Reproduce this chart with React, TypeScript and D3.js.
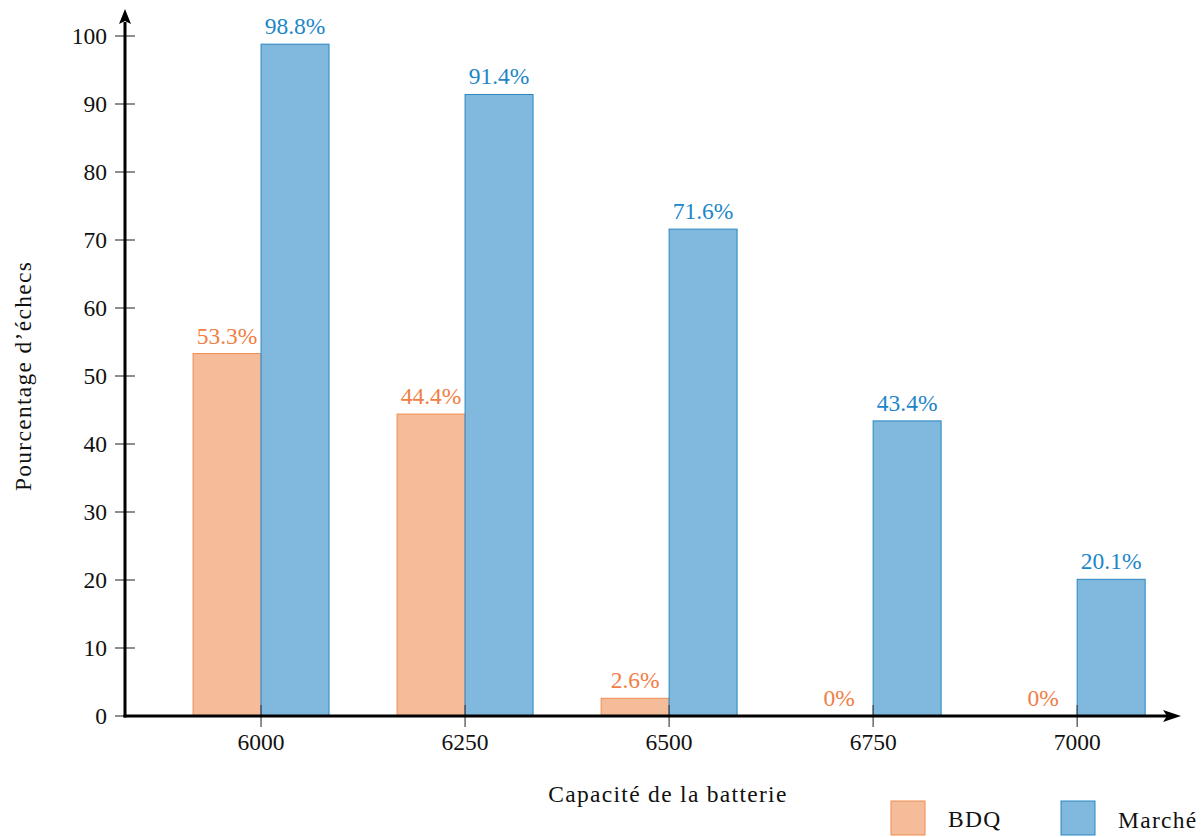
import React from "react";
import * as d3 from "d3";

const categories = [6000, 6250, 6500, 6750, 7000];
const bdq = [53.3, 44.4, 2.6, 0, 0];
const marche = [98.8, 91.4, 71.6, 43.4, 20.1];
const yTicks = [0, 10, 20, 30, 40, 50, 60, 70, 80, 90, 100];
const seriesNames = ["BDQ", "Marché"];

const W = 1203, H = 837;
const FONT = "Liberation Serif, Times New Roman, DejaVu Serif, serif";
const FS = 23.5;
const orangeFill = "#F5BC99", orangeStroke = "#F08C50", orangeText = "#F07E45";
const blueFill = "#80B9DD", blueStroke = "#2A86C3", blueText = "#1C86C8";

export default function App() {
  const x = d3.scaleLinear().domain([5833.3, 7126]).range([125, 1180]);
  const y = d3.scaleLinear().domain([0, 100]).range([716, 36]);
  const bw = x(6000) - x(5916.7);
  const fmt = (v: number) => `${v}%`;
  const ts = { fontFamily: FONT };
  const ws = { fontFamily: FONT, letterSpacing: "1.3px" };
  return (
    <svg width={W} height={H} style={{ position: "absolute", left: 0, top: 0, background: "#fff", fontFamily: FONT }}>
      {categories.map((c, i) => (
        <g key={c}>
          {bdq[i] > 0 && (
            <rect x={x(c) - bw} y={y(bdq[i])} width={bw} height={y(0) - y(bdq[i])} fill={orangeFill} stroke={orangeStroke} strokeWidth={1} />
          )}
          <rect x={x(c)} y={y(marche[i])} width={bw} height={y(0) - y(marche[i])} fill={blueFill} stroke={blueStroke} strokeWidth={1} />
          <text style={ts} x={x(c) - bw / 2} y={y(bdq[i]) - 10} textAnchor="middle" fontSize={FS} fill={orangeText}>{fmt(bdq[i])}</text>
          <text style={ts} x={x(c) + bw / 2} y={y(marche[i]) - 10} textAnchor="middle" fontSize={FS} fill={blueText}>{fmt(marche[i])}</text>
        </g>
      ))}
      {yTicks.map((t) => (
        <g key={t}>
          <line x1={115} x2={135} y1={y(t)} y2={y(t)} stroke="#444" strokeWidth={1.2} />
          <text style={ts} x={107} y={y(t) + 8} textAnchor="end" fontSize={FS} fill="#111">{t}</text>
        </g>
      ))}
      {categories.map((c) => (
        <g key={"t" + c}>
          <line x1={x(c)} x2={x(c)} y1={705} y2={727} stroke="#444" strokeWidth={1.2} />
          <text style={ts} x={x(c)} y={750} textAnchor="middle" fontSize={FS} fill="#111">{c}</text>
        </g>
      ))}
      <line x1={125} x2={125} y1={717.5} y2={22} stroke="#000" strokeWidth={3} />
      <path d="M125,9 L131,24 L125,21 L119,24 Z" fill="#000" />
      <line x1={123.5} x2={1168} y1={716} y2={716} stroke="#000" strokeWidth={3} />
      <path d="M1181,716 L1163,722 L1167,716 L1163,710 Z" fill="#000" />
      <text style={ws} x={668} y={802} textAnchor="middle" fontSize={FS} fill="#111">Capacité de la batterie</text>
      <text style={ws} transform={`translate(31,376) rotate(-90)`} textAnchor="middle" fontSize={FS} fill="#111">Pourcentage d’échecs</text>
      <rect x={891} y={801} width={34} height={34} fill={orangeFill} stroke={orangeStroke} strokeWidth={1} />
      <text style={ws} x={948} y={827} fontSize={FS} fill="#111">{seriesNames[0]}</text>
      <rect x={1061} y={801} width={34} height={34} fill={blueFill} stroke={blueStroke} strokeWidth={1} />
      <text style={ws} x={1118} y={828} fontSize={FS} fill="#111">{seriesNames[1]}</text>
    </svg>
  );
}
